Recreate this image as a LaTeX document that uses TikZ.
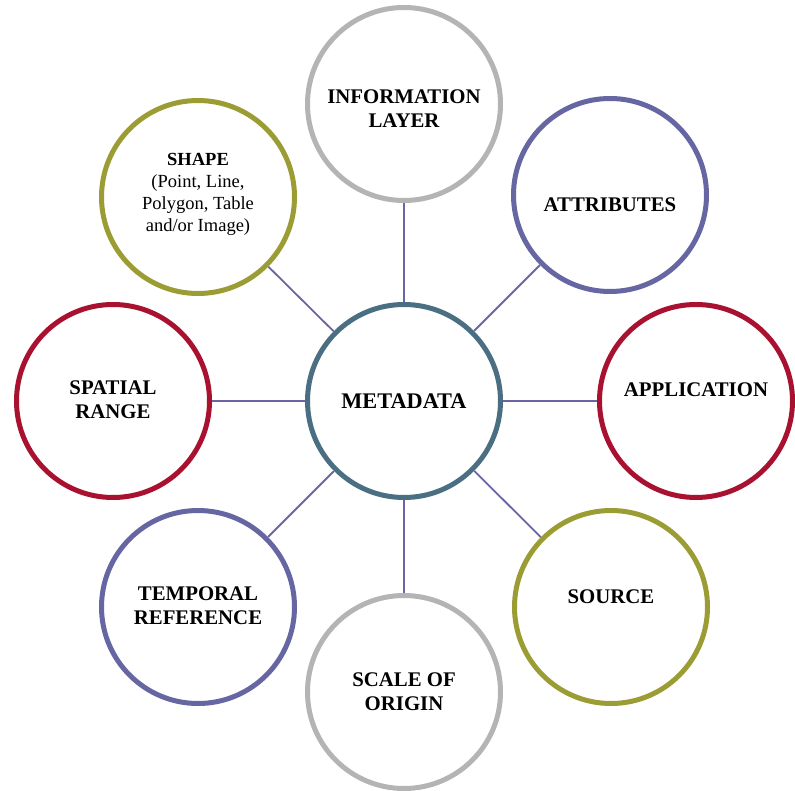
\documentclass[tikz,border=0pt]{standalone}
\usepackage{fontspec}
\setmainfont{Liberation Serif}
\definecolor{cgray}{HTML}{B4B4B4}
\definecolor{cteal}{HTML}{4A6E82}
\definecolor{colive}{HTML}{9C9C34}
\definecolor{cred}{HTML}{A8112F}
\definecolor{cpurple}{HTML}{6666A3}
\definecolor{cline}{HTML}{6A66A6}
\begin{document}
\begin{tikzpicture}[x=1pt,y=-1pt,
  ring/.style={circle,draw=#1,line width=5pt,minimum size=193pt,inner sep=0pt,fill=white},
  lbl/.style={align=center,font=\fontsize{20.8}{24}\selectfont\bfseries},
  conn/.style={draw=cline,line width=1.8pt}]
\useasboundingbox (0,0) rectangle (795,791);
\node[ring=cteal] (m) at (404,401) {};
\node[ring=cgray] (info) at (404,104) {};
\node[ring=cpurple] (attr) at (610,195) {};
\node[ring=cred] (app) at (696,401) {};
\node[ring=colive] (src) at (611,607) {};
\node[ring=cgray] (scale) at (404,692) {};
\node[ring=cpurple] (temp) at (198,607) {};
\node[ring=cred] (spat) at (113,401) {};
\node[ring=colive] (shape) at (198,197) {};
\foreach \n in {info,attr,app,src,scale,temp,spat,shape}
  \draw[conn] (m) -- (\n);
\node[lbl,font=\fontsize{22.3}{24}\selectfont\bfseries] (tm) at (404,401) {METADATA};
\node[lbl] (tinfo) at (404,109) {INFORMATION\\LAYER};
\node[lbl] (tattr) at (610,205) {ATTRIBUTES};
\node[lbl] (tapp) at (696,390) {APPLICATION};
\node[lbl] (tsrc) at (611,597) {SOURCE};
\node[lbl] (tscale) at (404,692) {SCALE OF\\ORIGIN};
\node[lbl] (ttemp) at (198,606) {TEMPORAL\\REFERENCE};
\node[lbl] (tspat) at (113,400) {SPATIAL\\RANGE};
\node[align=center,font=\fontsize{18.5}{22}\selectfont] (tshape) at (198,194) {\textbf{SHAPE}\\(Point, Line,\\Polygon, Table\\and/or Image)};
\end{tikzpicture}
\end{document}
